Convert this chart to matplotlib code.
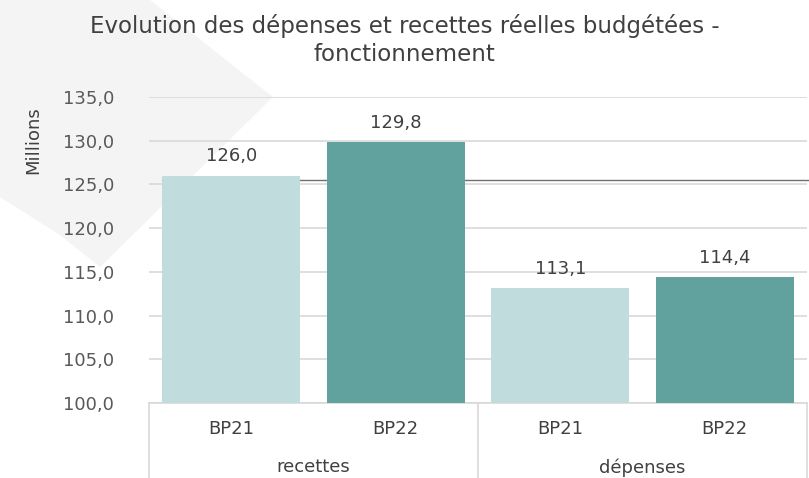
import matplotlib.pyplot as plt
import matplotlib.transforms as mtransforms
from matplotlib.patches import Polygon
import numpy as np

plt.rcParams["font.family"] = ["DejaVu Sans"]

# data
groups = ["recettes", "dépenses"]
series = ["BP21", "BP22"]
values = [126.0, 129.8, 113.1, 114.4]
bar_labels = ["BP21", "BP22", "BP21", "BP22"]
ref_level = 125.45
y_ticks = [100, 105, 110, 115, 120, 125, 130, 135]

LIGHT = "#C0DCDC"
DARK = "#62A29E"
TXT = "#404040"
GRID = "#D9D9D9"
FS = 13

fig = plt.figure(figsize=(8.09, 4.78), dpi=100)

# light decorative shape in the background (figure pixel coords)
W, H = 809, 478
shape_px = [(0, 0), (150, 0), (273, 97), (100, 267), (60, 235), (0, 197)]
shape = Polygon([(x / W, 1 - y / H) for x, y in shape_px], closed=True,
                transform=fig.transFigure, facecolor="#F4F4F4",
                edgecolor="none", zorder=0)
fig.patches.append(shape)

ax = fig.add_axes([149 / W, 1 - 403 / H, (807 - 149) / W, (403 - 97) / H])
ax.set_zorder(2)
ax.patch.set_alpha(0)

x = np.arange(len(values))
colors = [LIGHT, DARK, LIGHT, DARK]
bars = ax.bar(x, values, width=0.84, color=colors, zorder=3)

for xi, v in zip(x, values):
    ax.text(xi, v + 1.2, f"{v:.1f}".replace(".", ","), ha="center",
            va="bottom", fontsize=FS, color=TXT, zorder=4)

# thin dark reference line
ax.plot([x[0] - 0.42, len(values) - 0.48], [ref_level, ref_level],
        color="#707070", lw=1.0, zorder=2, clip_on=False)

ax.set_xlim(-0.5, len(values) - 0.5)
ax.set_ylim(100, 135)
ax.set_yticks(y_ticks)
ax.set_yticklabels([f"{t:.1f}".replace(".", ",") for t in y_ticks],
                   fontsize=FS, color="#595959")
ax.tick_params(axis="y", length=0, pad=25)
ax.yaxis.grid(True, color=GRID, lw=1.2, zorder=0)
for s in ["top", "right", "left"]:
    ax.spines[s].set_visible(False)
ax.spines["bottom"].set_color(GRID)
ax.spines["bottom"].set_linewidth(1.2)

ax.set_xticks(x)
ax.set_xticklabels(bar_labels, fontsize=FS, color=TXT)
ax.tick_params(axis="x", length=0, pad=12)

# two-level category axis
trans = mtransforms.blended_transform_factory(ax.transData, ax.transAxes)
for xb in [-0.5, 1.5, 3.5]:
    ax.plot([xb, xb], [0, -0.25], transform=trans, color=GRID, lw=1.2,
            clip_on=False)
for gi, g in enumerate(groups):
    ax.text(gi * 2 + 0.5, -0.21, g, transform=trans, ha="center",
            va="center", fontsize=FS, color=TXT)

ax.set_ylabel("Millions", fontsize=FS, color=TXT)
ax.yaxis.set_label_coords(-0.162, 0.86)

fig.text(0.5, 1 - 40 / H, "Evolution des dépenses et recettes réelles budgétées -\nfonctionnement",
         ha="center", va="center", fontsize=16.5, color=TXT, linespacing=1.3)

fig.savefig("out.png", dpi=100)
